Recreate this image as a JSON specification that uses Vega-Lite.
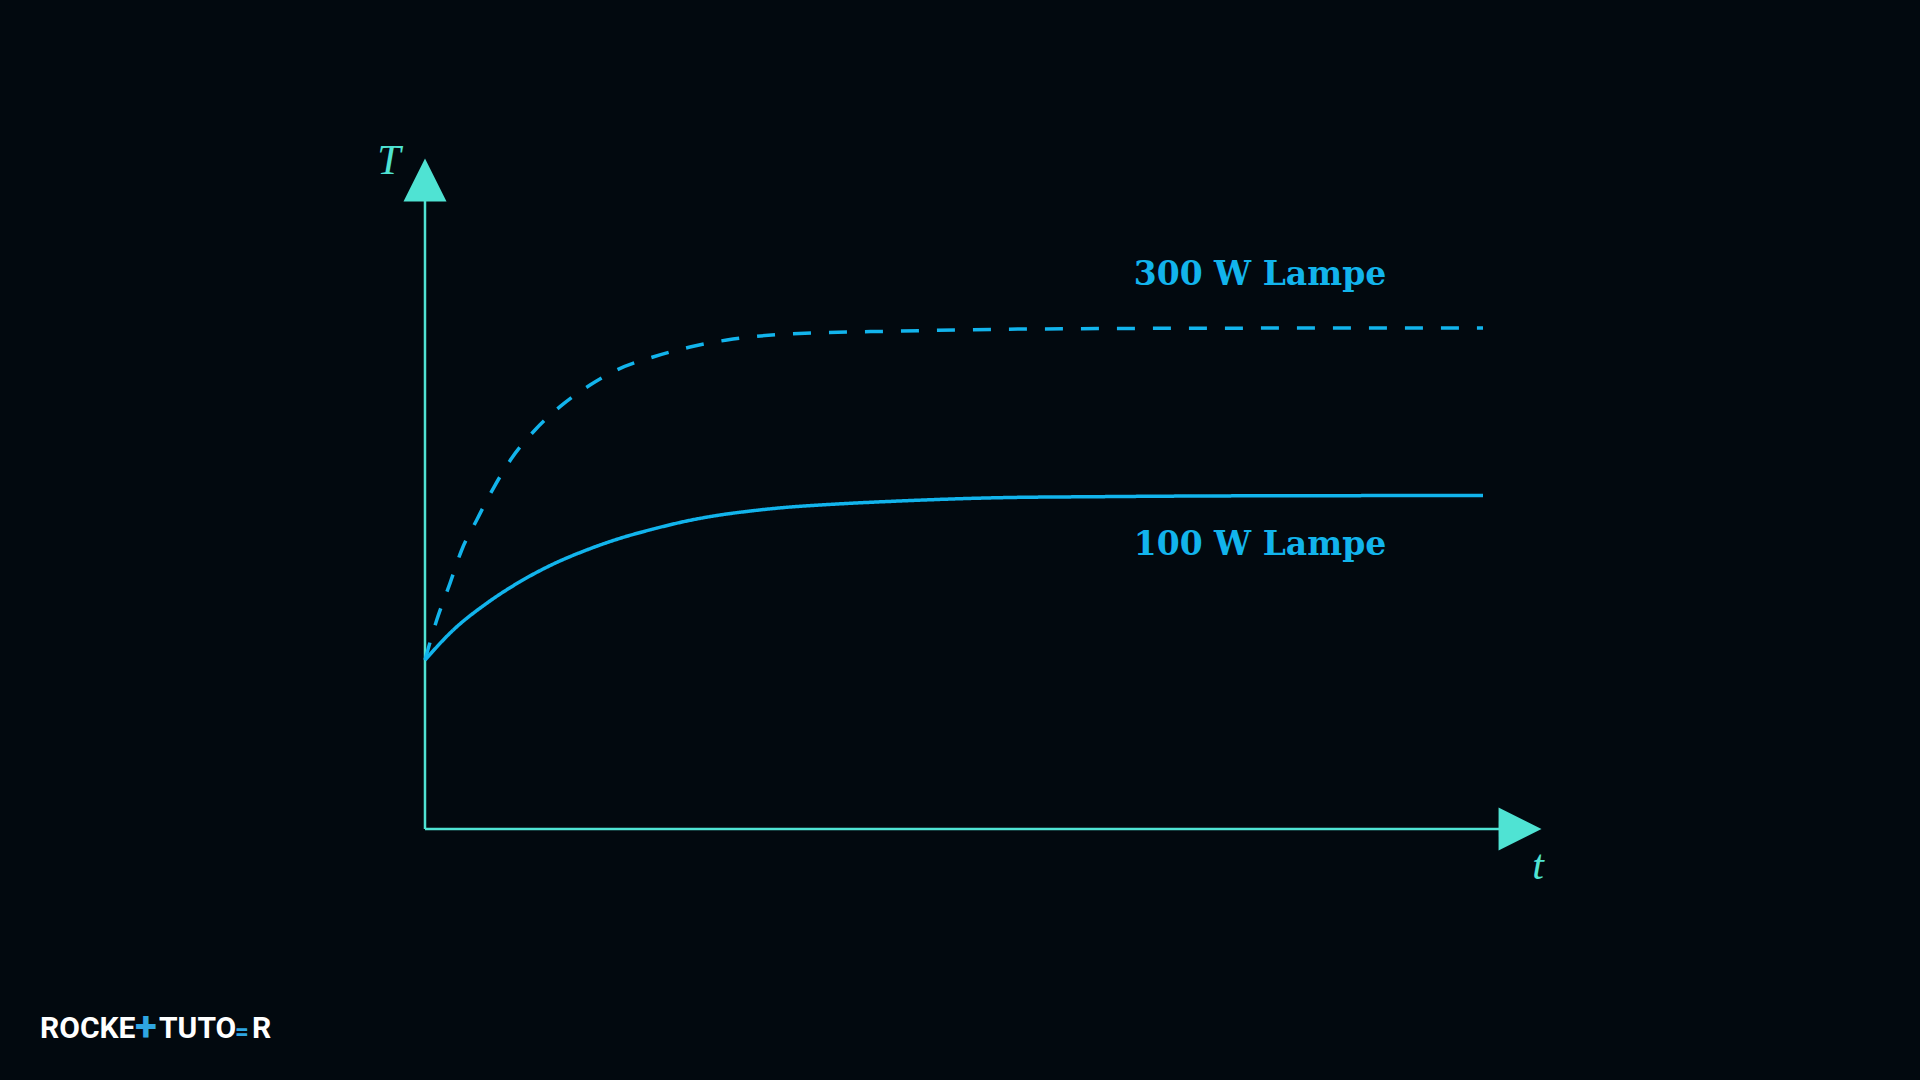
{
  "$schema": "https://vega.github.io/schema/vega-lite/v6.json",
  "width": 1920,
  "height": 1080,
  "padding": 0,
  "autosize": {"type": "fit", "contains": "padding"},
  "background": "#02090f",
  "config": {"view": {"stroke": null}},
  "encoding": {
    "x": {"field": "t", "type": "quantitative", "scale": {"domain": [-4.017, 14.1304], "nice": false, "zero": false}, "axis": null},
    "y": {"field": "T", "type": "quantitative", "scale": {"domain": [-29.704, 98.107], "nice": false, "zero": false}, "axis": null}
  },
  "layer": [
    {
      "data": {"values": [
        {"t": 0, "T": 0, "t2": 0, "T2": 75},
        {"t": 0, "T": 0, "t2": 10.2, "T2": 0}
      ]},
      "mark": {"type": "rule", "color": "#4fe3d3", "strokeWidth": 2.5},
      "encoding": {"x2": {"field": "t2"}, "y2": {"field": "T2"}}
    },
    {
      "data": {"values": [
        {"t": 0, "T": 76.8, "dir": "up"},
        {"t": 10.35, "T": 0, "dir": "right"}
      ]},
      "mark": {"type": "point", "filled": true, "opacity": 1, "color": "#4fe3d3", "size": 1849, "strokeWidth": 0},
      "encoding": {
        "shape": {"field": "dir", "type": "nominal", "legend": null,
          "scale": {"domain": ["up", "right"], "range": ["M0,-1L1,1L-1,1Z", "M1,0L-1,1L-1,-1Z"]}}
      }
    },
    {
      "data": {"values": [
        {"series": "100 W", "t": 0, "T": 20.0},
        {"series": "100 W", "t": 0.267, "T": 23.55},
        {"series": "100 W", "t": 0.583, "T": 26.71},
        {"series": "100 W", "t": 0.898, "T": 29.27},
        {"series": "100 W", "t": 1.213, "T": 31.36},
        {"series": "100 W", "t": 1.528, "T": 33.02},
        {"series": "100 W", "t": 1.843, "T": 34.40},
        {"series": "100 W", "t": 2.158, "T": 35.50},
        {"series": "100 W", "t": 2.474, "T": 36.45},
        {"series": "100 W", "t": 2.788, "T": 37.16},
        {"series": "100 W", "t": 3.103, "T": 37.67},
        {"series": "100 W", "t": 3.418, "T": 38.07},
        {"series": "100 W", "t": 3.733, "T": 38.34},
        {"series": "100 W", "t": 4.490, "T": 38.82},
        {"series": "100 W", "t": 5.435, "T": 39.21},
        {"series": "100 W", "t": 6.380, "T": 39.33},
        {"series": "100 W", "t": 7.325, "T": 39.41},
        {"series": "100 W", "t": 8.270, "T": 39.44},
        {"series": "100 W", "t": 10.0, "T": 39.47},
        {"series": "300 W", "t": 0, "T": 20.0},
        {"series": "300 W", "t": 0.111, "T": 24.73},
        {"series": "300 W", "t": 0.236, "T": 29.08},
        {"series": "300 W", "t": 0.347, "T": 33.02},
        {"series": "300 W", "t": 0.489, "T": 36.57},
        {"series": "300 W", "t": 0.646, "T": 40.32},
        {"series": "300 W", "t": 0.819, "T": 43.87},
        {"series": "300 W", "t": 1.040, "T": 47.22},
        {"series": "300 W", "t": 1.276, "T": 49.98},
        {"series": "300 W", "t": 1.560, "T": 52.54},
        {"series": "300 W", "t": 1.812, "T": 54.32},
        {"series": "300 W", "t": 2.155, "T": 55.86},
        {"series": "300 W", "t": 2.505, "T": 57.04},
        {"series": "300 W", "t": 2.854, "T": 57.87},
        {"series": "300 W", "t": 3.431, "T": 58.58},
        {"series": "300 W", "t": 4.490, "T": 58.93},
        {"series": "300 W", "t": 5.435, "T": 59.14},
        {"series": "300 W", "t": 6.380, "T": 59.22},
        {"series": "300 W", "t": 7.325, "T": 59.27},
        {"series": "300 W", "t": 10.0, "T": 59.29}
      ]},
      "mark": {"type": "line", "strokeWidth": 3.5, "color": "#12b4ec", "interpolate": "monotone"},
      "encoding": {
        "detail": {"field": "series", "type": "nominal"},
        "strokeDash": {"field": "series", "type": "nominal", "legend": null,
          "scale": {"domain": ["100 W", "300 W"], "range": [[1, 0], [18, 18]]}}
      }
    },
    {
      "data": {"values": [
        {"t": 7.892, "T": 64.38, "label": "300 W Lampe"},
        {"t": 7.892, "T": 32.43, "label": "100 W Lampe"}
      ]},
      "mark": {"type": "text", "font": "DejaVu Serif", "fontWeight": "bold", "fontSize": 33, "color": "#12b4ec", "align": "center", "baseline": "alphabetic"},
      "encoding": {"text": {"field": "label"}}
    },
    {
      "data": {"values": [
        {"t": -0.34, "T": 79.05, "label": "T"},
        {"t": 10.52, "T": -4.38, "label": "t"}
      ]},
      "mark": {"type": "text", "font": "Liberation Serif", "fontStyle": "italic", "fontSize": 42, "color": "#4fe3d3", "align": "center", "baseline": "middle"},
      "encoding": {"text": {"field": "label"}}
    },
    {
      "data": {"values": [
        {"t": -3.639, "T": -24.73, "label": "ROCKE"},
        {"t": -2.514, "T": -24.73, "label": "TUTO"},
        {"t": -1.635, "T": -24.73, "label": "R"}
      ]},
      "mark": {"type": "text", "font": "Roboto", "fontWeight": "bold", "fontSize": 30, "color": "#ffffff", "align": "left", "baseline": "alphabetic"},
      "encoding": {"text": {"field": "label"}}
    },
    {
      "data": {"values": [
        {"t": -2.637, "T": -24.73, "label": "+", "fs": "big"},
        {"t": -1.73, "T": -24.73, "label": "=", "fs": "small"}
      ]},
      "mark": {"type": "text", "font": "Roboto", "fontWeight": "bold", "color": "#2fa6e2", "align": "center", "baseline": "alphabetic", "dy": 2},
      "encoding": {
        "text": {"field": "label"},
        "size": {"field": "fs", "type": "nominal", "legend": null, "scale": {"domain": ["big", "small"], "range": [40, 24]}}
      }
    }
  ]
}
